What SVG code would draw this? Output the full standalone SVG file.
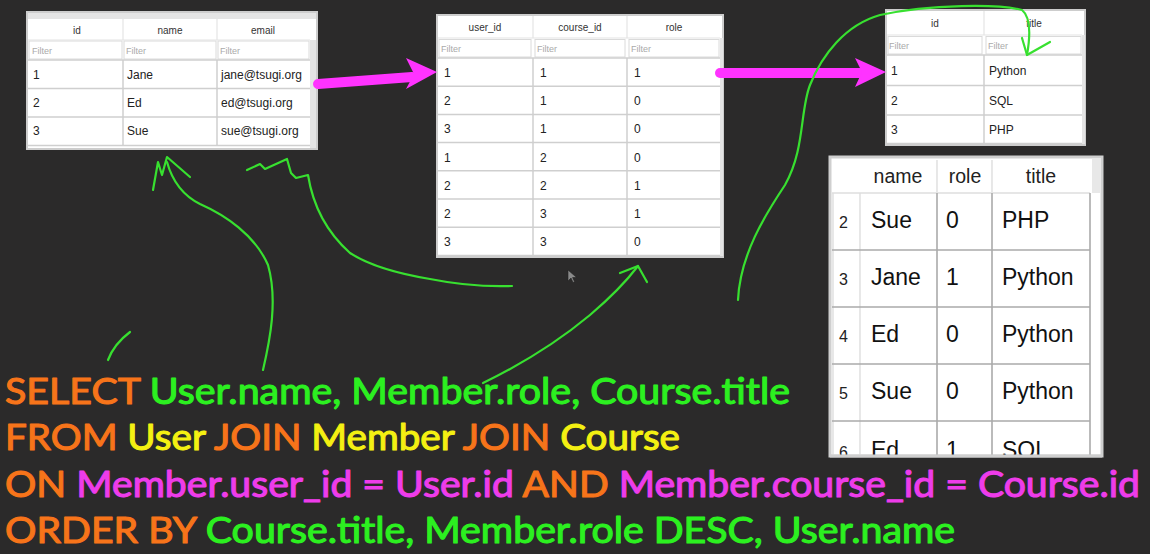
<svg xmlns="http://www.w3.org/2000/svg" width="1150" height="554" viewBox="0 0 1150 554">
<style>
.tb{fill:#fff;stroke:#cdcdcd;stroke-width:2}
.strip{fill:#e4e4e4}
.gl{stroke:#cfcfcf;stroke-width:1.5;fill:none}
.hl{stroke:#e4e4e4;stroke-width:1.2;fill:none}
.fb{fill:none;stroke:#dadada;stroke-width:1}
.hd{font-family:"Liberation Sans",Arial,sans-serif;font-size:10px;fill:#333;text-anchor:middle}
.ft{font-family:"Liberation Sans",Arial,sans-serif;font-size:9px;fill:#aaa}
.cl{font-family:"Liberation Sans",Arial,sans-serif;font-size:12px;fill:#222}
.rg{stroke:#ababab;stroke-width:1.6;fill:none}
.rl{stroke:#dedede;stroke-width:1.4;fill:none}
.rh{font-family:"Liberation Sans",Arial,sans-serif;font-size:19.5px;fill:#222;text-anchor:middle}
.ri{font-family:"Liberation Sans",Arial,sans-serif;font-size:16px;fill:#222}
.rc{font-family:"Liberation Sans",Arial,sans-serif;font-size:23px;fill:#111}
.sql{font-family:Lato,"Open Sans",sans-serif;font-size:36px;font-weight:400;stroke-width:1.1;stroke-linejoin:round}
.o{fill:#f7741a;stroke:#f7741a}.gr{fill:#2cf020;stroke:#2cf020}.y{fill:#f4f012;stroke:#f4f012}.m{fill:#ee3cea;stroke:#ee3cea}
.pk{stroke:#ff33ff;stroke-width:10;stroke-linecap:round;fill:none}
.pkh{fill:#ff33ff}
.sc{stroke:#38e030;stroke-width:2.2;fill:none;stroke-linecap:round;stroke-linejoin:round}
</style>
<defs>
<clipPath id="rclip"><rect x="828" y="155" width="276" height="300"/></clipPath>
</defs>
<rect x="0" y="0" width="1150" height="554" fill="#2b2a2a"/>

<g id="user-table">
<rect class="tb" x="27" y="12" width="290" height="137"/>
<rect class="strip" x="28" y="13" width="288" height="6"/>
<rect class="strip" x="310" y="40" width="6" height="108"/>
<rect class="fb" x="29" y="41" width="93" height="18"/>
<rect class="fb" x="124" y="41" width="92" height="18"/>
<rect class="fb" x="218" y="41" width="91" height="18"/>
<path class="hl" d="M123,19V40M217,19V40M28,40H310"/>
<path class="gl" d="M28,60H310M28,88.5H310M28,117H310M28,145.5H310M123,60V146M217,60V146"/>
<text class="hd" x="77" y="34">id</text>
<text class="hd" x="170" y="34">name</text>
<text class="hd" x="263" y="34">email</text>
<text class="ft" x="32" y="54">Filter</text>
<text class="ft" x="126" y="54">Filter</text>
<text class="ft" x="220" y="54">Filter</text>
<text class="cl" x="33" y="79">1</text><text class="cl" x="127" y="79">Jane</text><text class="cl" x="221" y="79">jane@tsugi.org</text>
<text class="cl" x="33" y="107">2</text><text class="cl" x="127" y="107">Ed</text><text class="cl" x="221" y="107">ed@tsugi.org</text>
<text class="cl" x="33" y="135">3</text><text class="cl" x="127" y="135">Sue</text><text class="cl" x="221" y="135">sue@tsugi.org</text>
</g>

<g id="member-table">
<rect class="tb" x="437" y="15" width="286" height="242"/>
<rect class="strip" x="720" y="38" width="3" height="218"/>
<rect class="fb" x="439" y="39.5" width="92" height="17.5"/>
<rect class="fb" x="535" y="39.5" width="90" height="17.5"/>
<rect class="fb" x="629" y="39.5" width="90" height="17.5"/>
<path class="hl" d="M533,16V38M627,16V38M438,38H720"/>
<path class="gl" d="M438,58H720M438,86.2H720M438,114.4H720M438,142.6H720M438,170.8H720M438,199H720M438,227.2H720M438,255.4H720M533,58V256M627,58V256"/>
<text class="hd" x="485" y="31">user_id</text>
<text class="hd" x="580" y="31">course_id</text>
<text class="hd" x="674" y="31">role</text>
<text class="ft" x="441" y="52">Filter</text>
<text class="ft" x="537" y="52">Filter</text>
<text class="ft" x="631" y="52">Filter</text>
<text class="cl" x="444" y="77">1</text><text class="cl" x="540" y="77">1</text><text class="cl" x="634" y="77">1</text>
<text class="cl" x="444" y="105.2">2</text><text class="cl" x="540" y="105.2">1</text><text class="cl" x="634" y="105.2">0</text>
<text class="cl" x="444" y="133.4">3</text><text class="cl" x="540" y="133.4">1</text><text class="cl" x="634" y="133.4">0</text>
<text class="cl" x="444" y="161.6">1</text><text class="cl" x="540" y="161.6">2</text><text class="cl" x="634" y="161.6">0</text>
<text class="cl" x="444" y="189.8">2</text><text class="cl" x="540" y="189.8">2</text><text class="cl" x="634" y="189.8">1</text>
<text class="cl" x="444" y="218">2</text><text class="cl" x="540" y="218">3</text><text class="cl" x="634" y="218">1</text>
<text class="cl" x="444" y="246.2">3</text><text class="cl" x="540" y="246.2">3</text><text class="cl" x="634" y="246.2">0</text>
</g>

<g id="course-table">
<rect class="tb" x="886" y="10" width="199" height="135"/>
<rect class="strip" x="1082" y="35" width="3" height="109"/>
<rect class="fb" x="888" y="36.5" width="94" height="17.5"/>
<rect class="fb" x="986" y="36.5" width="95" height="17.5"/>
<path class="hl" d="M984,11V35M887,35H1082"/>
<path class="gl" d="M887,55H1082M887,85.5H1082M887,115H1082M887,143.5H1082M984,55V144"/>
<text class="hd" x="935" y="27">id</text>
<text class="hd" x="1034" y="27">title</text>
<text class="ft" x="889" y="49">Filter</text>
<text class="ft" x="988" y="49">Filter</text>
<text class="cl" x="891" y="75">1</text><text class="cl" x="989" y="75">Python</text>
<text class="cl" x="891" y="105">2</text><text class="cl" x="989" y="105">SQL</text>
<text class="cl" x="891" y="134">3</text><text class="cl" x="989" y="134">PHP</text>
</g>

<g id="result-table">
<rect x="830" y="157" width="272" height="299" fill="#fff" stroke="#cfcfcf" stroke-width="3"/>
<rect x="1092" y="158" width="9" height="35" fill="#e8e8e8"/>
<g clip-path="url(#rclip)">
<path class="rl" d="M937,160V192M992,160V192M832,193H1090M860,193V470M833,193V470"/>
<path class="rg" d="M832,250H1090M832,307H1090M832,364H1090M832,421H1090M937,193V470M992,193V470M1090,193V470"/>
<text class="rh" x="898" y="183">name</text>
<text class="rh" x="965" y="183">role</text>
<text class="rh" x="1041" y="183">title</text>
<text class="ri" x="839" y="228">2</text><text class="rc" x="871" y="228">Sue</text><text class="rc" x="946" y="228">0</text><text class="rc" x="1002" y="228">PHP</text>
<text class="ri" x="839" y="285">3</text><text class="rc" x="871" y="285">Jane</text><text class="rc" x="946" y="285">1</text><text class="rc" x="1002" y="285">Python</text>
<text class="ri" x="839" y="342">4</text><text class="rc" x="871" y="342">Ed</text><text class="rc" x="946" y="342">0</text><text class="rc" x="1002" y="342">Python</text>
<text class="ri" x="839" y="399">5</text><text class="rc" x="871" y="399">Sue</text><text class="rc" x="946" y="399">0</text><text class="rc" x="1002" y="399">Python</text>
<text class="ri" x="839" y="458">6</text><text class="rc" x="871" y="458">Ed</text><text class="rc" x="946" y="458">1</text><text class="rc" x="1002" y="458">SQL</text>
</g>
<path d="M830,456H1102" stroke="#cfcfcf" stroke-width="3"/>
</g>

<g id="connectors">
<path class="pk" d="M318,84 L412,77"/>
<polygon class="pkh" points="406,58 437,72 406,89 414,74"/>
<path class="pk" d="M720,73 L860,73"/>
<polygon class="pkh" points="855,58 886,72 855,87 862,72"/>
<path class="sc" d="M263,370 C270,340 278,300 268,265 C255,235 225,215 200,204 C182,195 172,180 167,162"/>
<path class="sc" d="M153,190 L158,162 L162,175 L167,157 L190,177"/>
<path class="sc" d="M130,332 Q114,344 108,360"/>
<path class="sc" d="M247,170 L260,164 L265,169 L287,159 L291,173 L296,178 L308,175 C312,200 322,228 350,253 C370,266 400,274 430,279 C455,284 485,287 512,286"/>
<path class="sc" d="M483,383 C520,365 560,340 590,315 C610,298 625,283 638,266"/>
<path class="sc" d="M620,273 L638,266 L647,282"/>
<path class="sc" d="M738,300 C740,255 765,215 785,185 C805,150 800,110 810,85 C822,55 845,25 880,15 C930,4 1000,4 1022,10 C1032,18 1030,38 1027,55"/>
<path class="sc" d="M1022,38 L1027,55 L1050,42"/>
<path d="M568,270 l0,11 l3,-3 l2,4.5 l1.6,-0.8 l-2,-4.2 l4,0 z" fill="#8a8a8a" stroke="#222" stroke-width="0.6"/>
</g>

<g id="sql">
<text class="sql" x="5" y="404" textLength="785" lengthAdjust="spacingAndGlyphs"><tspan class="o">SELECT </tspan><tspan class="gr">User.name, Member.role, Course.title</tspan></text>
<text class="sql" x="5" y="450" textLength="675" lengthAdjust="spacingAndGlyphs"><tspan class="o">FROM </tspan><tspan class="y">User </tspan><tspan class="o">JOIN </tspan><tspan class="y">Member </tspan><tspan class="o">JOIN </tspan><tspan class="y">Course</tspan></text>
<text class="sql" x="5" y="497" textLength="1135" lengthAdjust="spacingAndGlyphs"><tspan class="o">ON </tspan><tspan class="m">Member.user_id = User.id </tspan><tspan class="o">AND </tspan><tspan class="m">Member.course_id = Course.id</tspan></text>
<text class="sql" x="5" y="543" textLength="950" lengthAdjust="spacingAndGlyphs"><tspan class="o">ORDER BY </tspan><tspan class="gr">Course.title, Member.role DESC, User.name</tspan></text>
</g>
</svg>
